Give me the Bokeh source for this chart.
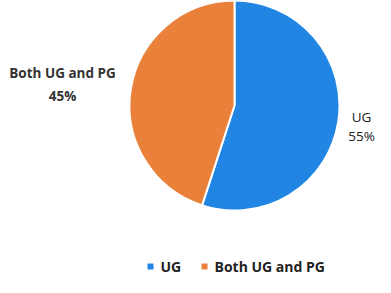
import math
from bokeh.plotting import figure
from bokeh.models import ColumnDataSource
from bokeh.core.properties import value
from bokeh.embed import file_html
from bokeh.resources import INLINE

categories = ["UG", "Both UG and PG"]
values = [55, 45]
colors = ["#2186e3", "#e9813a"]

W, H = 375, 277
p = figure(width=W, height=H, x_range=(0, W), y_range=(0, H),
           output_backend="svg", toolbar_location=None, min_border=0)
p.axis.visible = False
p.grid.visible = False
p.outline_line_color = None
p.background_fill_color = "white"

total = sum(values)
starts, ends = [], []
a = math.pi / 2
for v in values:
    span = 2 * math.pi * v / total
    ends.append(a)
    starts.append(a - span)
    a -= span

cx, cy, r = 234, 172, 105
src = ColumnDataSource(dict(start=starts, end=ends, color=colors, cat=categories))
p.wedge(x=cx, y=cy, radius=r, radius_units="screen", start_angle="start", end_angle="end",
        fill_color="color", line_color="white", line_width=2, source=src)

font = value("Open Sans")
# UG label (right)
p.text(x=[361], y=[161], text=[categories[0]], text_align="center", text_baseline="middle",
       text_font=font, text_font_size="13.5px", text_color="#222222")
p.text(x=[361], y=[142], text=[f"{values[0]}%"], text_align="center", text_baseline="middle",
       text_font=font, text_font_size="13.5px", text_color="#222222")
# Both label (left)
p.text(x=[62], y=[205], text=[categories[1]], text_align="center", text_baseline="middle",
       text_font=font, text_font_size="13.5px", text_font_style="bold", text_color="#333333")
p.text(x=[62], y=[182], text=[f"{values[1]}%"], text_align="center", text_baseline="middle",
       text_font=font, text_font_size="13.5px", text_font_style="bold", text_color="#333333")

# legend
lx = [150, 204]
p.rect(x=lx, y=[11, 11], width=6, height=6, width_units="screen", height_units="screen",
       fill_color=colors, line_color=None)
p.text(x=[x + 10 for x in lx], y=[11, 11], text=categories, text_align="left", text_baseline="middle",
       text_font=font, text_font_size="14px", text_font_style="bold", text_color="#222222")

open("out.html", "w").write(file_html(p, INLINE))
